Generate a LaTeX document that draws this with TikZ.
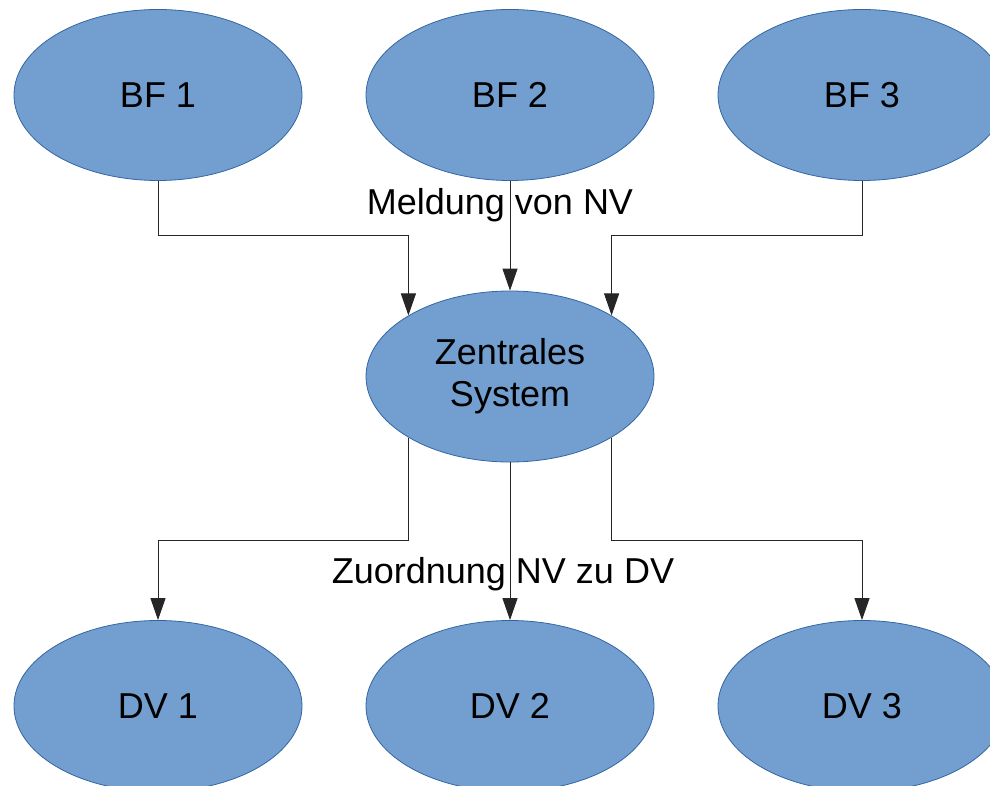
\documentclass[tikz,border=0pt]{standalone}
\usepackage{fontspec}
\setmainfont{Liberation Sans}
\usetikzlibrary{arrows.meta,shapes.geometric}
\definecolor{boxblue}{HTML}{729FCF}
\definecolor{boxedge}{HTML}{3465A4}

\begin{document}
\begin{tikzpicture}[x=0.5pt,y=-0.5pt,
	place/.style={ellipse, draw=boxedge, fill=boxblue, line width=0.4pt, minimum width=144pt, minimum height=85.5pt, inner sep=0pt, align=center, font=\fontsize{18pt}{21pt}\selectfont},
	conn/.style={draw=black!85, line width=0.5pt, -{Triangle[length=11pt,width=7.5pt]}},
	lbl/.style={anchor=base, font=\fontsize{18pt}{21pt}\selectfont}]
	\def\linetop{236}
	\def\linebottom{540}

	\useasboundingbox (0,0) rectangle (990,786);

	\node[place] (BF1) at (158,95) {BF 1};
	\node[place] (BF2) at (510,95) {BF 2};
	\node[place] (BF3) at (862,95) {BF 3};

	\node[place] (Zentral) at (510,376.5) {Zentrales\\System};

	\node[place] (DV1) at (158,706) {DV 1};
	\node[place] (DV2) at (510,706) {DV 2};
	\node[place] (DV3) at (862,706) {DV 3};

	\coordinate (InL) at (Zentral.149 |- 0,\linetop);
	\coordinate (InR) at (Zentral.31 |- 0,\linetop);
	\coordinate (OutL) at (DV1.north |- 0,\linebottom);
	\coordinate (OutR) at (DV3.north |- 0,\linebottom);

	% Meldungen
	\draw[conn] (BF1.south) |- (InL) -- (Zentral.149);
	\draw[conn] (BF2.south) -- (Zentral.north);
	\draw[conn] (BF3.south) |- (InR) -- (Zentral.31);
	\node[lbl] (Meldung) at (500,215) {Meldung von NV};

	% Zuordnung
	\draw[conn] (Zentral.211) |- (OutL) -- (DV1.north);
	\draw[conn] (Zentral.south) -- (DV2.north);
	\draw[conn] (Zentral.329) |- (OutR) -- (DV3.north);
	\node[lbl] (Zuordnung) at (503,583) {Zuordnung NV zu DV};
\end{tikzpicture}
\end{document}
